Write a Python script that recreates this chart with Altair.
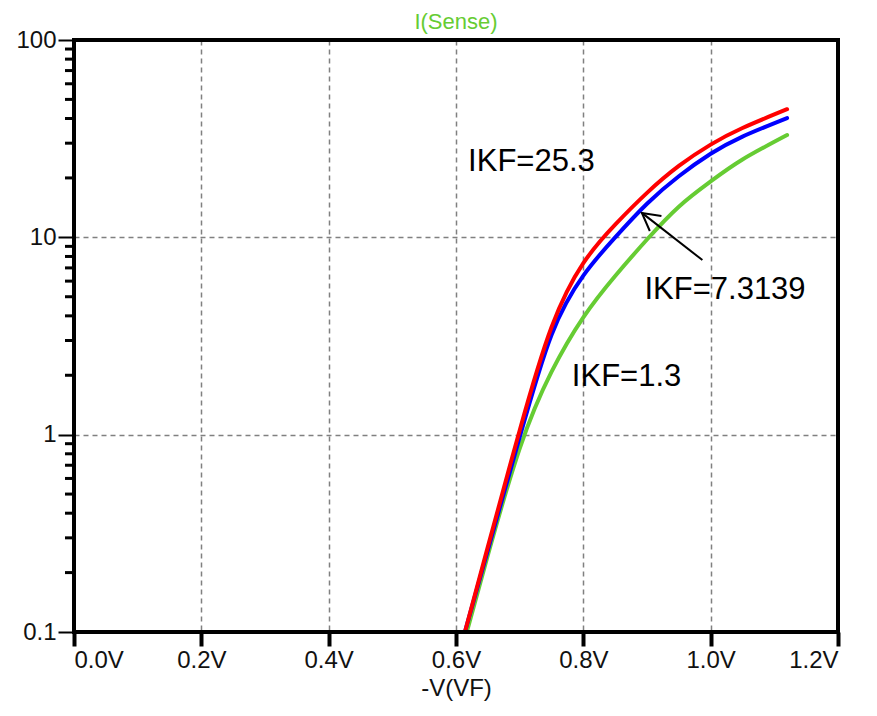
import altair as alt
import pandas as pd

# ---- data ----
volts = [0.614, 0.65, 0.70, 0.75, 0.80, 0.85, 0.90, 0.95, 1.00, 1.05, 1.12]
i_ikf_25_3 = [0.1, 0.27, 1.05, 3.5, 7.4, 11.6, 16.8, 23.0, 29.5, 35.8, 44.6]
i_ikf_7_3139 = [0.1, 0.26, 0.97, 3.2, 6.4, 10.0, 14.8, 20.4, 26.5, 32.4, 40.2]
volts_green = [0.617, 0.65, 0.70, 0.75, 0.80, 0.85, 0.90, 0.95, 1.00, 1.05, 1.12]
i_ikf_1_3 = [0.1, 0.245, 0.85, 2.08, 3.93, 6.37, 9.75, 14.3, 19.2, 24.8, 33.0]

x_ticks = [0.0, 0.2, 0.4, 0.6, 0.8, 1.0, 1.2]
y_ticks = [0.1, 1, 10, 100]
y_minor = [0.2, 0.3, 0.4, 0.5, 0.6, 0.7, 0.8, 0.9,
           2, 3, 4, 5, 6, 7, 8, 9,
           20, 30, 40, 50, 60, 70, 80, 90]

labels_text = ["IKF=25.3", "IKF=7.3139", "IKF=1.3"]
labels_v = [0.619, 0.896, 0.782]
labels_i = [24.1, 5.4, 1.96]

arrow_tail = (0.987, 7.67)
arrow_head = (0.892, 13.3)

W, H = 764, 592
FONT = "Liberation Sans"

xs = alt.Scale(domain=[0, 1.2], nice=False)
ys = alt.Scale(type="log", domain=[0.1, 100], nice=False)

def curve_df(v, i):
    return pd.DataFrame({"v": v, "i": i})

base_x = alt.X("v:Q", scale=xs, axis=alt.Axis(
    values=x_ticks, labelExpr="format(datum.value, '.1f') + 'V'",
    title="-V(VF)", grid=True))
base_y = alt.Y("i:Q", scale=ys, axis=alt.Axis(
    values=y_ticks, format="~g", title=None, grid=True))

def line(df, color):
    return alt.Chart(df).mark_line(color=color, strokeWidth=4, interpolate="natural",
                                   strokeCap="round").encode(x=base_x, y=base_y)

green = line(curve_df(volts_green, i_ikf_1_3), "#66cc33")
blue = line(curve_df(volts, i_ikf_7_3139), "#0000ff")
red = line(curve_df(volts, i_ikf_25_3), "#ff0000")

minor = alt.Chart(pd.DataFrame({"i": y_minor})).mark_rule(color="black", strokeWidth=3).encode(
    y=alt.Y("i:Q", scale=ys),
    x=alt.value(-9), x2=alt.value(0))

txt = alt.Chart(pd.DataFrame({"v": labels_v, "i": labels_i, "t": labels_text})).mark_text(
    align="left", baseline="middle", font=FONT, fontSize=31, color="black").encode(
    x=alt.X("v:Q", scale=xs), y=alt.Y("i:Q", scale=ys), text="t:N")

arrow_line = alt.Chart(pd.DataFrame({
    "v": [arrow_tail[0]], "i": [arrow_tail[1]],
    "v2": [arrow_head[0]], "i2": [arrow_head[1]]})).mark_rule(color="black", strokeWidth=2).encode(
    x=alt.X("v:Q", scale=xs), y=alt.Y("i:Q", scale=ys), x2="v2:Q", y2="i2:Q")

arrow_tip = alt.Chart(pd.DataFrame({"v": [arrow_head[0]], "i": [arrow_head[1]]})).mark_point(
    shape="M -1 -0.55 L 0 0 L -1 0.55", filled=False, stroke="black", strokeWidth=2,
    size=1200, angle=217.6, opacity=1).encode(
    x=alt.X("v:Q", scale=xs), y=alt.Y("i:Q", scale=ys))

frame = alt.Chart(pd.DataFrame({"k": [0]})).mark_rect(
    filled=False, stroke="black", strokeWidth=4).encode(
    x=alt.value(0), x2=alt.value(W), y=alt.value(0), y2=alt.value(H))

title = alt.Chart(pd.DataFrame({"t": ["I(Sense)"]})).mark_text(
    font=FONT, fontSize=22, color="#66cc33", baseline="middle", align="center").encode(
    x=alt.value(W / 2), y=alt.value(-18), text="t:N")

chart = alt.layer(minor, green, blue, red, arrow_line, arrow_tip, txt, frame, title).properties(
    width=W, height=H,
    autosize=alt.AutoSizeParams(type="none"),
    padding={"left": 66, "top": 32, "right": 30, "bottom": 80},
).configure_view(
    strokeWidth=0
).configure_axis(
    domain=False,
    labelFont=FONT, labelFontSize=24, labelColor="#111111",
    titleFont=FONT, titleFontSize=24, titleFontWeight="normal", titleColor="#111111",
    gridColor="#808080", gridDash=[5, 4], gridWidth=1.5,
    tickColor="black",
).configure_axisX(
    tickSize=14, tickWidth=4, labelPadding=2, titlePadding=4,
).configure_axisY(
    tickSize=16, tickWidth=2, labelPadding=2,
)

chart.save("out.html", embed_options={"renderer": "svg", "actions": False})
